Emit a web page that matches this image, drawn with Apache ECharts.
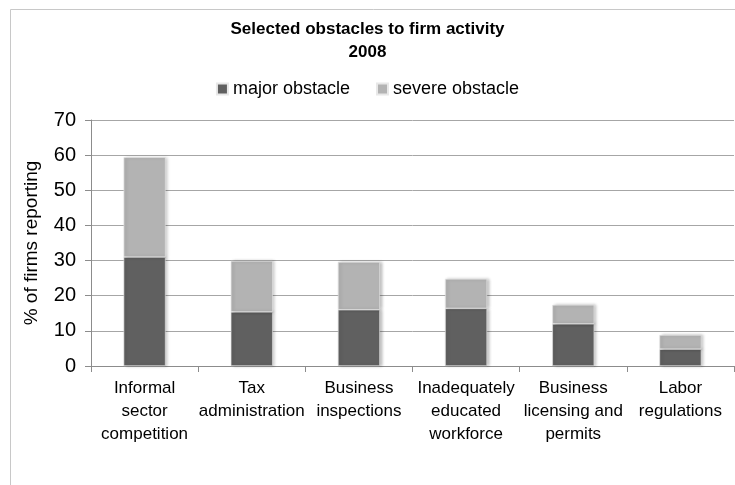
<!DOCTYPE html>
<html>
<head>
<meta charset="utf-8">
<script src="https://cdn.jsdelivr.net/npm/echarts@6/dist/echarts.min.js"></script>
<style>
  html, body { margin: 0; padding: 0; background: #ffffff; }
  #chart { width: 735px; height: 485px; }
</style>
</head>
<body>
<div id="chart"></div>
<script>
// Obstacle categories (x axis)
const categories = [
  'Informal\nsector\ncompetition',
  'Tax\nadministration',
  'Business\ninspections',
  'Inadequately\neducated\nworkforce',
  'Business\nlicensing and\npermits',
  'Labor\nregulations'
];
// % of firms rating the item a major obstacle
const majorObstacle = [31.0, 15.4, 16.0, 16.4, 12.0, 4.8];
// % of firms rating the item a severe obstacle (stacked on top)
const severeObstacle = [28.4, 14.5, 13.6, 8.4, 5.4, 4.0];
// Value axis ticks
const yTicks = [0, 10, 20, 30, 40, 50, 60, 70];

const FONT = "'Liberation Sans', Arial, sans-serif";
const chart = echarts.init(document.getElementById('chart'));

const barShadow = {
  shadowColor: 'rgba(0,0,0,0.25)',
  shadowBlur: 3,
  shadowOffsetX: 2,
  shadowOffsetY: 0
};

chart.setOption({
  backgroundColor: '#ffffff',
  animation: false,
  graphic: [{
    type: 'rect',
    shape: { x: 10.5, y: 9.5, width: 760, height: 520 },
    style: { fill: 'none', stroke: '#c8c8c8', lineWidth: 1 },
    silent: true
  }],
  title: {
    text: 'Selected obstacles to firm activity\n2008',
    left: 'center',
    top: 13,
    textStyle: {
      fontFamily: FONT,
      fontWeight: 'bold',
      fontSize: 17,
      lineHeight: 23,
      color: '#000000'
    }
  },
  legend: {
    top: 75,
    left: 'center',
    itemWidth: 11,
    itemHeight: 11,
    itemGap: 26,
    icon: 'rect',
    textStyle: { fontFamily: FONT, fontSize: 18, color: '#000000' },
    data: ['major obstacle', 'severe obstacle']
  },
  grid: { left: 91, right: 1, top: 120, bottom: 119, containLabel: false },
  xAxis: {
    type: 'category',
    data: categories,
    axisLine: { lineStyle: { color: '#8c8c8c', width: 1 } },
    axisTick: { show: true, length: 6, lineStyle: { color: '#8c8c8c' } },
    axisLabel: {
      interval: 0,
      margin: 11,
      fontFamily: FONT,
      fontSize: 17,
      lineHeight: 23,
      color: '#000000'
    }
  },
  yAxis: {
    type: 'value',
    min: yTicks[0],
    max: yTicks[yTicks.length - 1],
    interval: 10,
    name: '% of firms reporting',
    nameLocation: 'middle',
    nameGap: 50,
    nameRotate: 90,
    nameTextStyle: { fontFamily: FONT, fontSize: 19, color: '#000000' },
    axisLine: { show: true, lineStyle: { color: '#8c8c8c', width: 1 } },
    axisTick: { show: true, length: 6, lineStyle: { color: '#8c8c8c' } },
    axisLabel: { margin: 15, fontFamily: FONT, fontSize: 20, color: '#000000' },
    splitLine: { lineStyle: { color: '#a6a6a6', width: 1 } }
  },
  series: [
    {
      name: 'major obstacle',
      type: 'bar',
      stack: 'total',
      barWidth: 42,
      data: majorObstacle,
      itemStyle: Object.assign({ color: '#606060', borderColor: '#e8e8e8', borderWidth: 0.6 }, barShadow)
    },
    {
      name: 'severe obstacle',
      type: 'bar',
      stack: 'total',
      barWidth: 42,
      data: severeObstacle,
      itemStyle: Object.assign({ color: '#b3b3b3', borderColor: '#e8e8e8', borderWidth: 0.6 }, barShadow)
    }
  ]
});
</script>
</body>
</html>
